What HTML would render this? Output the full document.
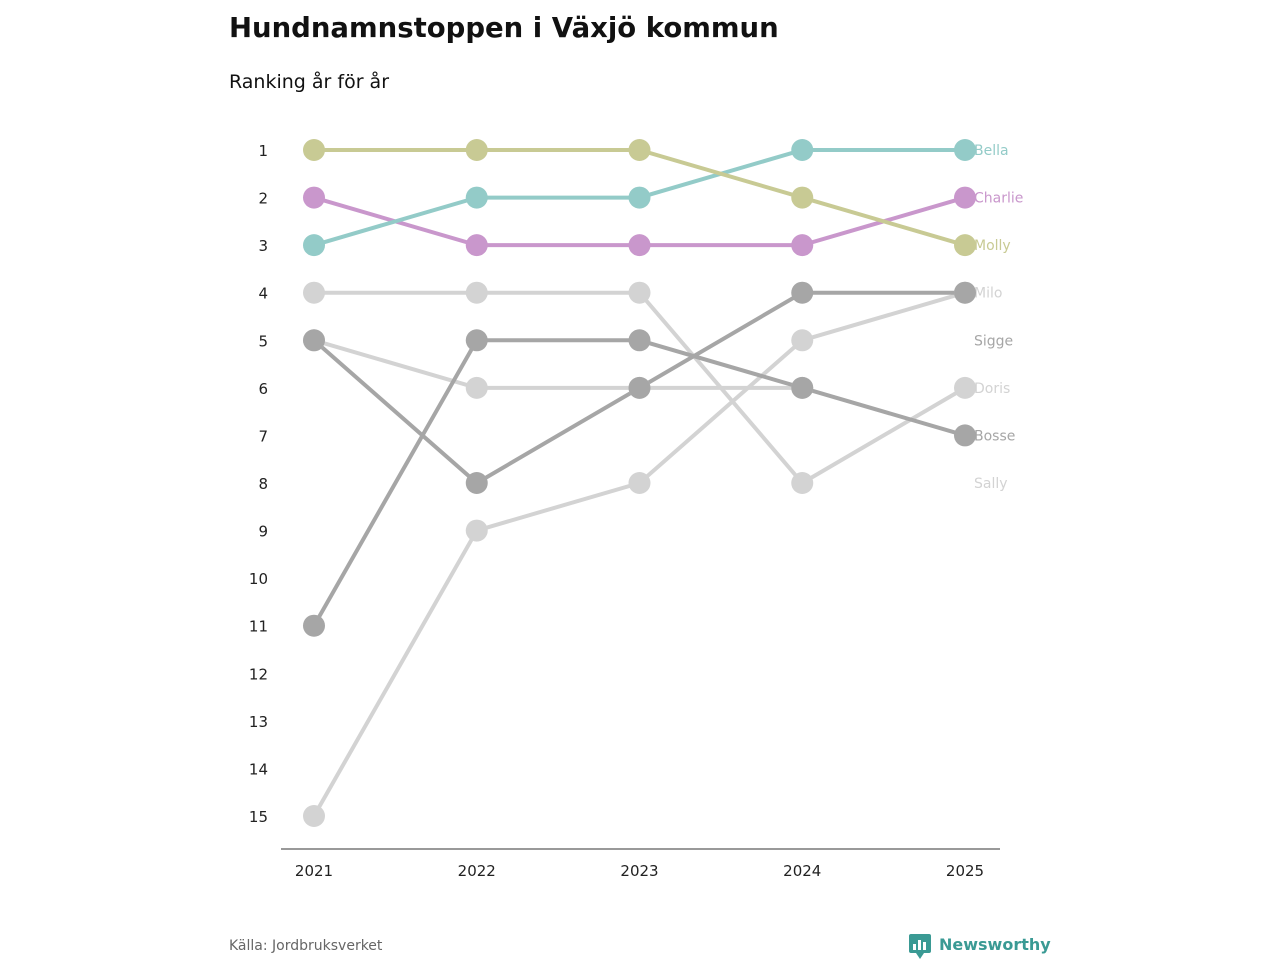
<!DOCTYPE html>
<html><head><meta charset="utf-8"><style>
body{margin:0;background:#fff;font-family:"DejaVu Sans","Liberation Sans",sans-serif;}
#wrap{position:relative;width:1280px;height:960px;overflow:hidden}
</style></head><body><div id="wrap">
<svg id="chart" width="1280" height="960" font-family="DejaVu Sans, Liberation Sans, sans-serif">
<text x="229" y="37" font-size="27.5" font-weight="bold" fill="#111">Hundnamnstoppen i Växjö kommun</text>
<text x="229" y="88" font-size="19" fill="#111">Ranking år för år</text>
<text x="229" y="950" font-size="14" fill="#666">Källa: Jordbruksverket</text>
<g>
<rect x="909" y="934" width="22" height="19" rx="2" fill="#3a9a94"/>
<polygon points="916,953 924,953 920,959" fill="#3a9a94"/>
<rect x="913" y="944" width="3" height="6" fill="#fff"/><rect x="918" y="940" width="3" height="10" fill="#fff"/><rect x="923" y="942" width="3" height="8" fill="#fff"/>
<text x="939" y="950" font-size="16" font-weight="bold" fill="#3a9a94">Newsworthy</text>
</g>
<line x1="281" y1="849" x2="1000" y2="849" stroke="#333" stroke-width="1"/>
</svg></div>
<script>
const years=[2021,2022,2023,2024,2025];
const rankTicks=[1,2,3,4,5,6,7,8,9,10,11,12,13,14,15];
const names=["Sally","Doris","Milo","Bosse","Sigge","Charlie","Bella","Molly"];
const colors=["#d3d3d3","#d3d3d3","#d3d3d3","#a6a6a6","#a6a6a6","#c997cc","#93cbc8","#c8ca94"];
const sallyRanks=[5,6,6,6,null];
const dorisRanks=[4,4,4,8,6];
const miloRanks=[15,9,8,5,4];
const bosseRanks=[11,5,5,6,7];
const siggeRanks=[5,8,6,4,4];
const charlieRanks=[2,3,3,3,2];
const bellaRanks=[3,2,2,1,1];
const mollyRanks=[1,1,1,2,3];
const labelRanks=[8,6,4,7,5,2,1,3];
const series=[sallyRanks,dorisRanks,miloRanks,bosseRanks,siggeRanks,charlieRanks,bellaRanks,mollyRanks];
const NS="http://www.w3.org/2000/svg";
const svg=document.getElementById('chart');
const xS=y=>314+(y-2021)*(965-314)/4;
const yS=r=>150+(r-1)*(816-150)/14;
function mk(t,a){const e=document.createElementNS(NS,t);for(const k in a)e.setAttribute(k,a[k]);svg.appendChild(e);return e;}
rankTicks.forEach(r=>{const t=mk('text',{x:268,y:yS(r)+6,'font-size':15,'text-anchor':'end',fill:'#222'});t.textContent=r;

});
years.forEach(y=>{const t=mk('text',{x:xS(y),y:876,'font-size':15,'text-anchor':'middle',fill:'#222'});t.textContent=y;

});
series.forEach((s,i)=>{
 let d='';s.forEach((r,j)=>{if(r==null)return;d+=(d?'L':'M')+xS(years[j])+','+yS(r);});
 const p=mk('path',{d:d,fill:'none',stroke:colors[i],'stroke-width':4});
 
 
});
series.forEach((s,i)=>{
 s.forEach((r,j)=>{if(r==null)return;
  const c=mk('circle',{cx:xS(years[j]),cy:yS(r),r:11,fill:colors[i]});
  
  });
 const t=mk('text',{x:974,y:yS(labelRanks[i])+5,'font-size':14,fill:colors[i]});
 t.textContent=names[i];
 
 
});
</script></body></html>
